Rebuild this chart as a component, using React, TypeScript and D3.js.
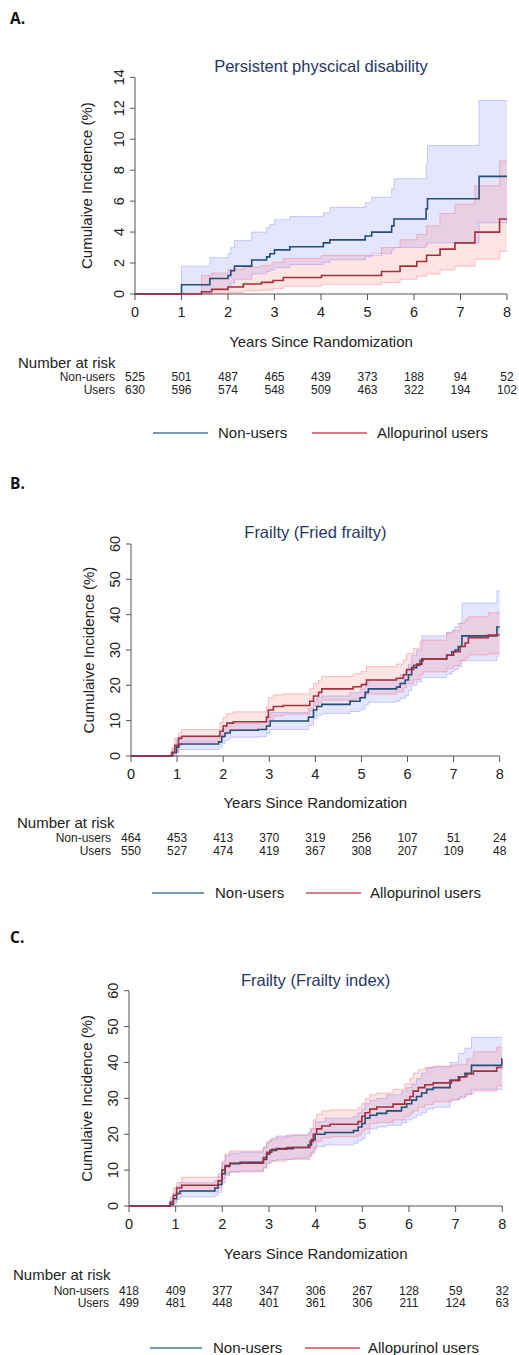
import React from 'react';
import * as d3 from 'd3';

// ---------- shared ----------
const years = [0, 1, 2, 3, 4, 5, 6, 7, 8];
const legendLabels = ['Non-users', 'Allopurinol users'];
const riskRowLabels = ['Non-users', 'Users'];
const xTitle = 'Years Since Randomization';
const yTitle = 'Cumulaive Incidence (%)';
const riskTitle = 'Number at risk';

// ---------- Panel A ----------
const aTitle = 'Persistent physcical disability';
const aYTicks = [0, 2, 4, 6, 8, 10, 12, 14];
const aNonT = [0, 1.0, 1.61, 2.0, 2.06, 2.14, 2.51, 2.83, 2.9, 3.0, 3.33, 4.05, 4.19, 4.95, 5.09, 5.52, 5.57, 6.26, 6.29, 7.4];
const aNonEst = [0, 0.6, 1.0, 1.2, 1.5, 1.8, 2.2, 2.4, 2.6, 2.85, 3.05, 3.3, 3.5, 3.75, 4.0, 4.4, 4.85, 5.5, 6.15, 7.6];
const aNonHi = [0, 1.8, 2.35, 2.6, 3.0, 3.45, 4.0, 4.3, 4.5, 4.8, 5.0, 5.25, 5.6, 5.9, 6.25, 6.8, 7.45, 8.4, 9.6, 12.5];
const aNonLo = [0, 0.05, 0.3, 0.5, 0.7, 0.95, 1.3, 1.45, 1.55, 1.7, 1.9, 2.05, 2.2, 2.4, 2.6, 2.85, 3.0, 3.15, 3.3, 4.6];
const aUseT = [0, 1.43, 1.65, 2.0, 2.33, 2.72, 2.97, 3.19, 4.01, 5.3, 5.7, 6.06, 6.27, 6.56, 6.88, 7.31, 7.84];
const aUseEst = [0, 0.15, 0.3, 0.45, 0.65, 0.75, 0.87, 1.07, 1.2, 1.45, 1.8, 2.1, 2.5, 2.9, 3.3, 4.0, 4.85];
const aUseHi = [0, 1.2, 1.35, 1.6, 1.75, 1.85, 2.05, 2.3, 2.5, 3.0, 3.5, 3.85, 4.4, 5.2, 5.8, 7.0, 8.6];
const aUseLo = [0, 0.0, 0.05, 0.1, 0.2, 0.25, 0.35, 0.5, 0.62, 0.75, 0.95, 1.15, 1.3, 1.55, 1.8, 2.25, 2.75];
const aRiskNon = [525, 501, 487, 465, 439, 373, 188, 94, 52];
const aRiskUse = [630, 596, 574, 548, 509, 463, 322, 194, 102];

// ---------- Panel B ----------
const bTitle = 'Frailty (Fried frailty)';
const bYTicks = [0, 10, 20, 30, 40, 50, 60];
const bNonT = [0, 0.9, 0.99, 1.04, 1.9, 1.97, 2.04, 2.15, 2.76, 2.94, 3.02, 3.85, 3.96, 4.03, 4.14, 4.75, 4.97, 5.08, 5.15, 5.76, 5.84, 5.95, 6.02, 6.09, 6.2, 6.31, 6.85, 6.96, 7.03, 7.1, 7.18, 7.94];
const bNonEst = [0, 1.0, 2.5, 3.4, 4.0, 5.5, 6.5, 7.3, 7.5, 8.5, 9.9, 11, 13, 14, 14.6, 15.5, 16.5, 18, 19, 19.5, 20.5, 21.5, 23, 25, 26, 27.5, 28.5, 29.5, 30, 31, 34, 36.5];
const bNonHi = [0, 2.5, 4.5, 5.4, 6.0, 7.5, 8.5, 9.2, 9.5, 10.8, 12.3, 13.5, 15.5, 16.5, 17.0, 18.0, 19.0, 20.5, 21.5, 22.0, 23.0, 24.0, 26.0, 28.5, 30.0, 34.0, 35.0, 35.6, 36.5, 37.5, 43.3, 46.7];
const bNonLo = [0, 0.1, 1.0, 1.8, 2.3, 3.5, 4.5, 5.3, 5.5, 6.4, 7.5, 8.7, 10.5, 11.5, 12.0, 12.6, 13.2, 14.5, 15.2, 15.5, 16.3, 17.0, 18.5, 20.0, 21.0, 22.2, 23.2, 24.0, 24.5, 25.3, 27.0, 28.3];
const bUseT = [0, 0.88, 0.95, 1.03, 1.1, 1.93, 2.0, 2.08, 2.22, 2.94, 2.98, 3.09, 3.3, 3.88, 3.96, 4.07, 4.14, 4.82, 5.0, 5.11, 5.76, 5.91, 5.98, 6.13, 6.27, 6.34, 6.85, 7.0, 7.14, 7.25, 7.32, 7.75, 7.94];
const bUseEst = [0, 1, 3, 5, 5.6, 7, 8.5, 9.3, 9.7, 11, 13, 14, 14.3, 15.5, 17, 18, 19, 19.6, 20.2, 21.5, 22, 23, 24.5, 25.7, 27, 27.5, 28.5, 29.5, 31, 32, 33.5, 34.2, 34.3];
const bUseHi = [0, 2, 5, 6.5, 7.5, 9.5, 11, 12.0, 12.5, 14, 16.5, 17.3, 17.6, 19, 20.5, 21.5, 22.5, 23.3, 23.9, 25.3, 26, 27.2, 29, 30.5, 32.5, 32.8, 34.8, 35.5, 37.6, 38.5, 39.4, 40.5, 40.7];
const bUseLo = [0, 0.2, 1.2, 3.0, 4.0, 5.0, 6.2, 7.0, 7.5, 8.5, 10.2, 11.3, 11.8, 12.8, 14.3, 15.2, 15.8, 16.2, 16.8, 17.5, 18.2, 19.3, 20.4, 21.6, 23.0, 23.8, 24.8, 25.6, 27.0, 27.8, 28.6, 28.9, 29.0];
const bRiskNon = [464, 453, 413, 370, 319, 256, 107, 51, 24];
const bRiskUse = [550, 527, 474, 419, 367, 308, 207, 109, 48];

// ---------- Panel C ----------
const cTitle = 'Frailty (Frailty index)';
const cYTicks = [0, 10, 20, 30, 40, 50, 60];
const cNonT = [0, 0.88, 0.95, 1.02, 1.09, 1.84, 1.91, 1.99, 2.06, 2.16, 2.38, 2.88, 2.95, 3.02, 3.16, 3.52, 3.84, 3.91, 3.99, 4.2, 4.81, 4.91, 4.99, 5.06, 5.16, 5.31, 5.52, 5.84, 5.95, 6.06, 6.16, 6.27, 6.38, 6.52, 6.88, 7.06, 7.2, 7.34, 7.99];
const cNonEst = [0, 0.5, 2, 3.5, 4.2, 5, 6, 9, 11, 11.8, 12.2, 13, 14.5, 15.5, 16, 16.3, 17, 18.5, 20, 20.5, 21, 22, 23, 24.5, 25.3, 25.8, 26.5, 27.5, 28.5, 29.5, 30.5, 31.5, 32.5, 33, 35, 36, 37, 39.2, 41];
const cNonHi = [0, 1.5, 3.5, 5.5, 6.5, 7.2, 8.2, 12, 14, 14.7, 15.0, 16.2, 17.5, 18.5, 19.5, 19.8, 20.5, 21.5, 23.5, 24.5, 25, 26, 27, 28.5, 29.5, 30, 31, 32, 33, 34, 35.5, 37, 38.5, 38.8, 40, 42.5, 44, 47, 47];
const cNonLo = [0, 0, 0.7, 1.8, 2.5, 3.0, 3.8, 6.5, 8.5, 9.5, 9.8, 10.5, 11.8, 12.6, 13, 13.3, 13.8, 15, 16.5, 17, 17.5, 18.2, 18.8, 20.2, 21.5, 22, 22.5, 23.2, 24, 24.5, 25.3, 26, 27, 27.5, 29.5, 30, 31, 32.5, 33];
const cUseT = [0, 0.88, 0.95, 1.02, 1.13, 1.91, 1.99, 2.06, 2.16, 2.88, 2.95, 3.06, 3.38, 3.88, 3.95, 4.02, 4.13, 4.31, 4.91, 4.99, 5.06, 5.16, 5.31, 5.66, 5.91, 6.02, 6.09, 6.2, 6.34, 6.52, 6.91, 7.09, 7.24, 7.38, 7.88];
const cUseEst = [0, 1, 3, 5, 5.8, 7, 10, 11.3, 11.9, 13.5, 15, 15.8, 16.3, 18, 20, 21.5, 22.3, 22.8, 23.5, 25, 26, 27, 27.6, 28.4, 29.5, 30.5, 32, 33, 33.8, 34.3, 35, 36, 36.8, 37.6, 38.6];
const cUseHi = [0, 2.5, 5, 6.5, 8, 9, 12.5, 14.5, 15.3, 16.5, 18, 19, 19.8, 21.5, 24, 25.5, 26.5, 26.8, 27.5, 28.5, 30, 31, 31.5, 32.5, 34, 35.5, 37, 38, 38.6, 39, 39.3, 39.5, 41, 43, 44.3];
const cUseLo = [0, 0, 1.2, 3.2, 4, 5, 7.5, 9, 9.5, 10.8, 12, 12.5, 13, 14.5, 16, 18, 19, 19.3, 19.8, 21, 21.5, 23, 23.3, 24, 25, 25.8, 26.5, 27.5, 28.3, 29, 29.7, 30.5, 31.2, 32, 33.5];
const cRiskNon = [418, 409, 377, 347, 306, 267, 128, 59, 32];
const cRiskUse = [499, 481, 448, 401, 361, 306, 211, 124, 63];

// ---------- styles ----------
const FONT = "'Liberation Sans', Arial, Helvetica, sans-serif";
const NON_LINE = '#234E78';
const USE_LINE = '#A3303A';
const NON_LEG = '#4877A8';
const USE_LEG = '#C8505A';
const NON_FILL = 'rgba(95,105,255,0.17)';
const USE_FILL = 'rgba(255,95,95,0.17)';
const NON_EDGE = 'rgba(95,105,255,0.30)';
const USE_EDGE = 'rgba(255,95,110,0.38)';
const AXIS = '#555';
const TITLE_COL = '#1F3864';

type Series = { t: number[]; est: number[]; lo: number[]; hi: number[] };

type Layout = {
  label: string; labelY: number;
  x0: number; x1: number; yBase: number; yTop: number;
  titleY: number; yLabX: number;
  xLabY: number; riskX: number; riskY: number; row1Y: number; row2Y: number;
  legY: number; legBlue: [number, number, number]; legRed: [number, number, number];
};

function extend(s: Series) {
  const last = s.t.length - 1;
  const idx = d3.range(s.t.length + 1);
  const t = (i: number) => (i > last ? 8 : s.t[i]);
  const v = (arr: number[], i: number) => (i > last ? arr[last] : arr[i]);
  return { idx, t, v };
}

function Panel(props: {
  lay: Layout; title: string; yMax: number; yTicks: number[];
  non: Series; use: Series; riskNon: number[]; riskUse: number[];
}) {
  const { lay, title, yMax, yTicks, non, use, riskNon, riskUse } = props;
  const x = d3.scaleLinear().domain([0, 8]).range([lay.x0, lay.x1]);
  const y = d3.scaleLinear().domain([0, yMax]).range([lay.yBase, lay.yTop]);
  const cx = (lay.x0 + lay.x1) / 2;

  const bandOf = (s: Series) => {
    const e = extend(s);
    const area = d3.area<number>()
      .x(i => x(e.t(i))).y0(i => y(e.v(s.lo, i))).y1(i => y(e.v(s.hi, i)))
      .curve(d3.curveStepAfter);
    const lineFor = (arr: number[]) => d3.line<number>()
      .x(i => x(e.t(i))).y(i => y(e.v(arr, i))).curve(d3.curveStepAfter)(e.idx) || '';
    return { area: area(e.idx) || '', lo: lineFor(s.lo), hi: lineFor(s.hi), est: lineFor(s.est) };
  };
  const nb = bandOf(non);
  const ub = bandOf(use);

  return (
    <g fontFamily={FONT}>
      <text x={10} y={lay.labelY} fontFamily="'Open Sans', 'Noto Sans', sans-serif" fontWeight={700} fontSize={15.5} fill="#111">{lay.label}</text>
      <text x={cx} y={lay.titleY} textAnchor="middle" fontSize={16.5} fill={TITLE_COL}>{title}</text>

      {/* bands */}
      <path d={nb.area} fill={NON_FILL} stroke="none" />
      <path d={ub.area} fill={USE_FILL} stroke="none" />
      <path d={nb.hi} fill="none" stroke={NON_EDGE} strokeWidth={1} />
      <path d={nb.lo} fill="none" stroke={NON_EDGE} strokeWidth={1} />
      <path d={ub.hi} fill="none" stroke={USE_EDGE} strokeWidth={1} />
      <path d={ub.lo} fill="none" stroke={USE_EDGE} strokeWidth={1} />

      {/* axes */}
      <line x1={lay.x0} x2={lay.x0} y1={y(0)} y2={y(yMax)} stroke={AXIS} strokeWidth={1} />
      {yTicks.map(v => (
        <g key={'y' + v}>
          <line x1={lay.x0 - 5} x2={lay.x0} y1={y(v)} y2={y(v)} stroke={AXIS} strokeWidth={1} />
          <text transform={`translate(${lay.x0 - 11.5},${y(v)}) rotate(-90)`} textAnchor="middle" fontSize={14.5} fill="#222">{v}</text>
        </g>
      ))}
      <line x1={x(0)} x2={x(8)} y1={lay.yBase} y2={lay.yBase} stroke={AXIS} strokeWidth={1} />
      {years.map(v => (
        <g key={'x' + v}>
          <line x1={x(v)} x2={x(v)} y1={lay.yBase} y2={lay.yBase + 6} stroke={AXIS} strokeWidth={1} />
          <text x={x(v)} y={lay.yBase + 23} textAnchor="middle" fontSize={14.5} fill="#222">{v}</text>
        </g>
      ))}

      {/* lines */}
      <path d={nb.est} fill="none" stroke={NON_LINE} strokeWidth={1.6} />
      <path d={ub.est} fill="none" stroke={USE_LINE} strokeWidth={1.6} />

      <text transform={`translate(${lay.yLabX},${(lay.yBase + lay.yTop) / 2}) rotate(-90)`} textAnchor="middle" fontSize={15} fill="#222">{yTitle}</text>
      <text x={cx} y={lay.xLabY} textAnchor="middle" fontSize={15} fill="#222">{xTitle}</text>

      {/* number at risk */}
      <text x={lay.riskX} y={lay.riskY} fontSize={15} fill="#222">{riskTitle}</text>
      <text x={lay.x0 - 20} y={lay.row1Y} textAnchor="end" fontSize={12} fill="#222">{riskRowLabels[0]}</text>
      <text x={lay.x0 - 20} y={lay.row2Y} textAnchor="end" fontSize={12} fill="#222">{riskRowLabels[1]}</text>
      {years.map((v, i) => (
        <g key={'r' + v}>
          <text x={x(v)} y={lay.row1Y} textAnchor="middle" fontSize={12} fill="#222">{riskNon[i]}</text>
          <text x={x(v)} y={lay.row2Y} textAnchor="middle" fontSize={12} fill="#222">{riskUse[i]}</text>
        </g>
      ))}

      {/* legend */}
      <line x1={lay.legBlue[0]} x2={lay.legBlue[1]} y1={lay.legY - 5} y2={lay.legY - 5} stroke={NON_LEG} strokeWidth={1.5} />
      <text x={lay.legBlue[2]} y={lay.legY} fontSize={15} fill="#222">{legendLabels[0]}</text>
      <line x1={lay.legRed[0]} x2={lay.legRed[1]} y1={lay.legY - 5} y2={lay.legY - 5} stroke={USE_LEG} strokeWidth={1.5} />
      <text x={lay.legRed[2]} y={lay.legY} fontSize={15} fill="#222">{legendLabels[1]}</text>
    </g>
  );
}

const layA: Layout = {
  label: 'A.', labelY: 24, x0: 135, x1: 507, yBase: 294, yTop: 77.3,
  titleY: 72, yLabX: 92, xLabY: 347, riskX: 18, riskY: 368, row1Y: 381, row2Y: 394,
  legY: 438, legBlue: [153, 208, 218], legRed: [312, 367, 377],
};
const layB: Layout = {
  label: 'B.', labelY: 489, x0: 131, x1: 499.7, yBase: 756, yTop: 544,
  titleY: 537.5, yLabX: 94, xLabY: 808, riskX: 17, riskY: 828, row1Y: 842, row2Y: 855,
  legY: 898, legBlue: [152, 204, 215], legRed: [306, 361, 370],
};
const layC: Layout = {
  label: 'C.', labelY: 943, x0: 129, x1: 502.3, yBase: 1206, yTop: 990.7,
  titleY: 986, yLabX: 92, xLabY: 1259, riskX: 13, riskY: 1280, row1Y: 1295, row2Y: 1307,
  legY: 1353, legBlue: [150, 202, 213], legRed: [305, 360, 368],
};

export default function App() {
  return (
    <div style={{ position: 'absolute', left: 0, top: 0, background: '#fff' }}>
      <svg width={519} height={1355} viewBox="0 0 519 1355" style={{ display: 'block' }}>
        <rect width={519} height={1355} fill="#fff" />
        <Panel lay={layA} title={aTitle} yMax={14} yTicks={aYTicks}
          non={{ t: aNonT, est: aNonEst, lo: aNonLo, hi: aNonHi }}
          use={{ t: aUseT, est: aUseEst, lo: aUseLo, hi: aUseHi }}
          riskNon={aRiskNon} riskUse={aRiskUse} />
        <Panel lay={layB} title={bTitle} yMax={60} yTicks={bYTicks}
          non={{ t: bNonT, est: bNonEst, lo: bNonLo, hi: bNonHi }}
          use={{ t: bUseT, est: bUseEst, lo: bUseLo, hi: bUseHi }}
          riskNon={bRiskNon} riskUse={bRiskUse} />
        <Panel lay={layC} title={cTitle} yMax={60} yTicks={cYTicks}
          non={{ t: cNonT, est: cNonEst, lo: cNonLo, hi: cNonHi }}
          use={{ t: cUseT, est: cUseEst, lo: cUseLo, hi: cUseHi }}
          riskNon={cRiskNon} riskUse={cRiskUse} />
      </svg>
    </div>
  );
}
